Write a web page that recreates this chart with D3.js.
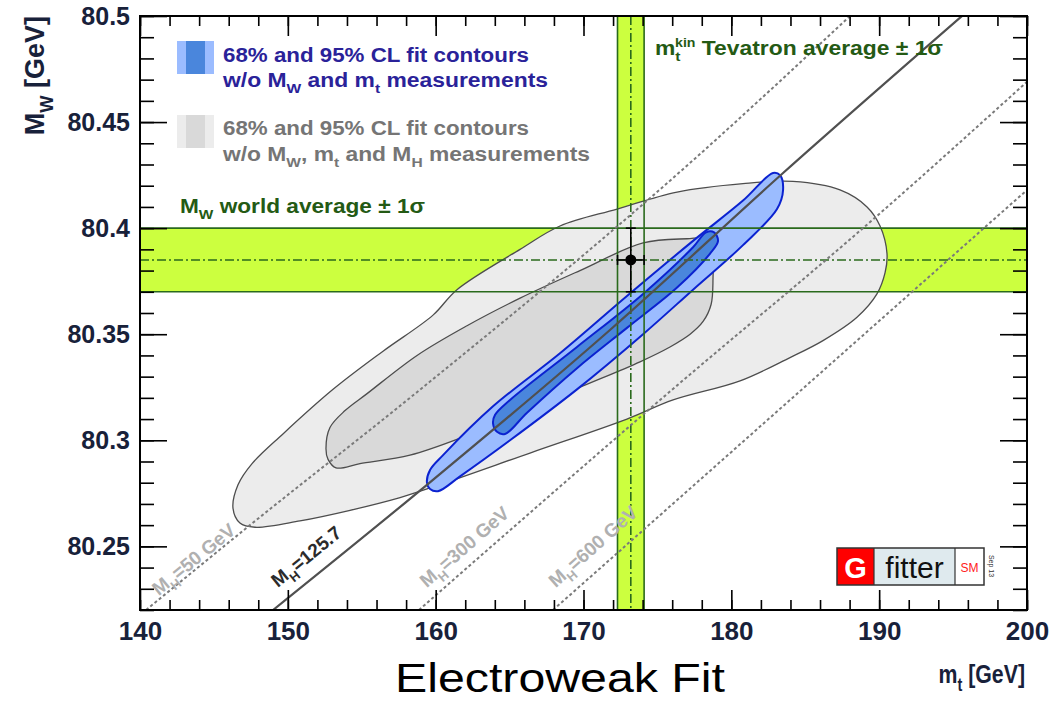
<!DOCTYPE html>
<html>
<head>
<meta charset="utf-8">
<script src="https://cdn.jsdelivr.net/npm/d3@7"></script>
<style>
  html, body { margin: 0; padding: 0; background: #fff; }
  svg { display: block; }
  text { font-family: "Liberation Sans", Arial, Helvetica, sans-serif; }
</style>
</head>
<body>
<svg id="chart" width="1054" height="703"></svg>
<script>
// ---------------- data ----------------
const mtDomain = [140, 200];
const mwDomain = [80.22, 80.5];

const mtTicks = [140, 150, 160, 170, 180, 190, 200];
const mtTickLabels = ["140", "150", "160", "170", "180", "190", "200"];
const mwTicks = [80.25, 80.3, 80.35, 80.4, 80.45, 80.5];
const mwTickLabels = ["80.25", "80.3", "80.35", "80.4", "80.45", "80.5"];

// direct measurements (value, 1 sigma)
const mwWorldAvg = 80.385, mwWorldErr = 0.015;
const mtTevatron = 173.2, mtTevatronErr = 0.9;

// fit contours w/o MW, mt and MH measurements [mt, MW]
const grayOuter95 = [
  [146.29, 80.268], [146.63, 80.279], [147.58, 80.289], [149.67, 80.303], [153.06, 80.324],
  [156.44, 80.342], [159.82, 80.359], [161.44, 80.371], [165.71, 80.390], [168.41, 80.401],
  [172.27, 80.409], [176.33, 80.417], [180.79, 80.421], [184.17, 80.422], [187.35, 80.418],
  [189.18, 80.410], [190.06, 80.401], [190.53, 80.388], [190.40, 80.379], [189.85, 80.369],
  [188.50, 80.358], [186.20, 80.347], [183.97, 80.339], [180.59, 80.328], [176.06, 80.319],
  [172.94, 80.310], [166.38, 80.294], [159.82, 80.278], [157.59, 80.273], [154.21, 80.267],
  [150.82, 80.262], [147.78, 80.259], [146.76, 80.261]
];
const grayInner68 = [
  [152.58, 80.296], [152.85, 80.306], [153.87, 80.314], [155.36, 80.322], [158.74, 80.340],
  [162.12, 80.354], [165.71, 80.367], [169.76, 80.380], [174.03, 80.393], [177.00, 80.395],
  [178.36, 80.395], [178.69, 80.391], [178.76, 80.376], [178.63, 80.364], [178.09, 80.356],
  [177.21, 80.350], [175.85, 80.344], [173.82, 80.337], [169.76, 80.325], [165.71, 80.313],
  [161.65, 80.301], [158.26, 80.293], [154.88, 80.289], [153.26, 80.287], [152.72, 80.291]
];

// fit contours w/o MW and mt measurements [mt, MW]
const blueOuter95 = [
  [159.41, 80.280], [159.62, 80.277], [160.16, 80.276], [161.65, 80.283], [165.03, 80.300],
  [169.56, 80.324], [174.03, 80.350], [177.41, 80.371], [180.79, 80.392], [183.09, 80.409],
  [183.50, 80.418], [183.29, 80.425], [182.82, 80.426], [180.79, 80.413], [177.41, 80.394],
  [172.94, 80.368], [168.41, 80.341], [163.88, 80.316], [160.50, 80.293], [159.62, 80.286]
];
const blueInner68 = [
  [163.88, 80.308], [164.15, 80.304], [164.69, 80.303], [166.18, 80.313], [169.56, 80.334],
  [172.94, 80.353], [176.33, 80.372], [178.56, 80.388], [179.10, 80.394], [178.83, 80.398],
  [178.29, 80.398], [177.41, 80.391], [174.03, 80.369], [169.56, 80.344], [165.03, 80.319],
  [164.02, 80.312]
];

// SM prediction for fixed Higgs mass [mt, MW]
const mh50 = [[140.41, 80.22], [147.44, 80.260], [158.26, 80.320], [177.41, 80.432], [188.03, 80.50]];
const mh125 = [[149.00, 80.22], [159.41, 80.279], [171.79, 80.352], [183.50, 80.426], [195.60, 80.50]];
const mh300 = [[158.87, 80.22], [175.18, 80.319], [190.06, 80.407], [200.0, 80.469]];
const mh600 = [[167.94, 80.22], [183.97, 80.319], [200.0, 80.418]];

const mhLines = [
  { pts: mh50, dashed: true, label: "50 GeV", at: [141.49, 80.2247], color: "#b0b0b0" },
  { pts: mh125, dashed: false, label: "125.7", at: [149.54, 80.2285], color: "#2b2b2b" },
  { pts: mh300, dashed: true, label: "300 GeV", at: [159.62, 80.2285], color: "#b0b0b0" },
  { pts: mh600, dashed: true, label: "600 GeV", at: [168.34, 80.2285], color: "#b0b0b0" }
];

// ---------------- layout ----------------
const svg = d3.select("#chart");
const frame = { left: 140, right: 1027, top: 16, bottom: 610 };

const x = d3.scaleLinear().domain(mtDomain).range([frame.left, frame.right]);
const y = d3.scaleLinear().domain(mwDomain).range([frame.bottom, frame.top]);

const COL = {
  band: "#ccff3f",
  bandLine: "#2a6a1c",
  grayOuter: "#ececec",
  grayInner: "#d9d9d9",
  grayStroke: "#4d4d4d",
  blueOuter: "#9bbcff",
  blueInner: "#4a86dc",
  blueStroke: "#0b22d0",
  text: "#18213a"
};

svg.append("defs").append("clipPath").attr("id", "plotClip")
  .append("rect")
  .attr("x", frame.left).attr("y", frame.top)
  .attr("width", frame.right - frame.left).attr("height", frame.bottom - frame.top);

const plot = svg.append("g").attr("clip-path", "url(#plotClip)");

// ---- measurement bands ----
plot.append("rect")
  .attr("x", frame.left).attr("width", frame.right - frame.left)
  .attr("y", y(mwWorldAvg + mwWorldErr))
  .attr("height", y(mwWorldAvg - mwWorldErr) - y(mwWorldAvg + mwWorldErr))
  .attr("fill", COL.band);
plot.append("rect")
  .attr("y", frame.top).attr("height", frame.bottom - frame.top)
  .attr("x", x(mtTevatron - mtTevatronErr))
  .attr("width", x(mtTevatron + mtTevatronErr) - x(mtTevatron - mtTevatronErr))
  .attr("fill", COL.band);

// ---- contours ----
const contour = d3.line()
  .x(d => x(d[0])).y(d => y(d[1]))
  .curve(d3.curveCatmullRomClosed.alpha(0.5));

plot.append("path").attr("d", contour(grayOuter95))
  .attr("fill", COL.grayOuter).attr("stroke", COL.grayStroke).attr("stroke-width", 1.3);
plot.append("path").attr("d", contour(grayInner68))
  .attr("fill", COL.grayInner).attr("stroke", COL.grayStroke).attr("stroke-width", 1.3);
plot.append("path").attr("d", contour(blueOuter95))
  .attr("fill", COL.blueOuter).attr("stroke", COL.blueStroke).attr("stroke-width", 2);
plot.append("path").attr("d", contour(blueInner68))
  .attr("fill", COL.blueInner).attr("stroke", COL.blueStroke).attr("stroke-width", 2);

// ---- band edges and central values ----
const hLine = (v, dash) => plot.append("line")
  .attr("x1", frame.left).attr("x2", frame.right)
  .attr("y1", y(v)).attr("y2", y(v))
  .attr("stroke", COL.bandLine).attr("stroke-width", 1.6)
  .attr("stroke-dasharray", dash || null);
const vLine = (v, dash) => plot.append("line")
  .attr("y1", frame.top).attr("y2", frame.bottom)
  .attr("x1", x(v)).attr("x2", x(v))
  .attr("stroke", COL.bandLine).attr("stroke-width", 1.6)
  .attr("stroke-dasharray", dash || null);

hLine(mwWorldAvg + mwWorldErr);
hLine(mwWorldAvg - mwWorldErr);
hLine(mwWorldAvg, "9,3,2,3");
vLine(mtTevatron - mtTevatronErr);
vLine(mtTevatron + mtTevatronErr);
vLine(mtTevatron, "9,3,2,3");

// ---- fixed-MH lines ----
const mhPath = d3.line().x(d => x(d[0])).y(d => y(d[1])).curve(d3.curveMonotoneX);
mhLines.forEach(l => {
  plot.append("path").attr("d", mhPath(l.pts))
    .attr("fill", "none")
    .attr("stroke", l.dashed ? "#7a7a7a" : "#505050")
    .attr("stroke-width", l.dashed ? 2 : 2.2)
    .attr("stroke-dasharray", l.dashed ? "3,2.5" : null);
});

// ---- measurement point ----
const pt = plot.append("g").attr("stroke", "#000").attr("stroke-width", 1.6);
pt.append("line")
  .attr("x1", x(mtTevatron)).attr("x2", x(mtTevatron))
  .attr("y1", y(mwWorldAvg + mwWorldErr)).attr("y2", y(mwWorldAvg - mwWorldErr));
pt.append("line")
  .attr("y1", y(mwWorldAvg)).attr("y2", y(mwWorldAvg))
  .attr("x1", x(mtTevatron - mtTevatronErr)).attr("x2", x(mtTevatron + mtTevatronErr));
[mwWorldAvg + mwWorldErr, mwWorldAvg - mwWorldErr].forEach(v =>
  pt.append("line").attr("x1", x(mtTevatron) - 5).attr("x2", x(mtTevatron) + 5)
    .attr("y1", y(v)).attr("y2", y(v)));
[mtTevatron - mtTevatronErr, mtTevatron + mtTevatronErr].forEach(v =>
  pt.append("line").attr("y1", y(mwWorldAvg) - 5).attr("y2", y(mwWorldAvg) + 5)
    .attr("x1", x(v)).attr("x2", x(v)));
pt.append("circle").attr("cx", x(mtTevatron)).attr("cy", y(mwWorldAvg)).attr("r", 5.5)
  .attr("fill", "#000").attr("stroke", "none");

// ---------------- text helper (sub/superscripts) ----------------
// parts: plain strings or [string, "sub" | "sup" | "supOver"]; "supOver" stacks
// the superscript above the preceding subscript.
function richText(parent, px, py, parts, opts) {
  const size = opts.size;
  const t = parent.append("text")
    .attr("x", px).attr("y", py)
    .attr("font-size", size)
    .attr("font-weight", opts.weight || "bold")
    .attr("fill", opts.fill || "#000")
    .attr("text-anchor", opts.anchor || "start");
  if (opts.transform) t.attr("transform", opts.transform);
  if (opts.length) t.attr("textLength", opts.length).attr("lengthAdjust", "spacingAndGlyphs");
  let shift = 0;
  parts.forEach(p => {
    const [str, mode] = Array.isArray(p) ? p : [p, ""];
    let target = 0, fs = size, dx = null;
    if (mode === "sub") { target = 0.32 * size; fs = 0.68 * size; }
    if (mode === "sup" || mode === "supOver") { target = -0.42 * size; fs = 0.62 * size; }
    if (mode === "supOver") dx = -0.24 * size;
    const ts = t.append("tspan").attr("dy", target - shift).attr("font-size", fs).text(str);
    if (dx !== null) ts.attr("dx", dx);
    shift = target;
  });
  return t;
}

// ---- fixed-MH labels along the lines ----
mhLines.forEach(l => {
  const p0 = l.pts[0], p1 = l.pts[1];
  const ang = Math.atan2(y(p1[1]) - y(p0[1]), x(p1[0]) - x(p0[0])) * 180 / Math.PI;
  const ax = x(l.at[0]), ay = y(l.at[1]);
  richText(svg, ax, ay - 5, ["M", ["H", "sub"], "=" + l.label], {
    size: 19, fill: l.color, transform: `rotate(${ang},${ax},${ay})`
  });
});

// ---------------- legend ----------------
const leg = svg.append("g");
leg.append("rect").attr("x", 177).attr("y", 41).attr("width", 37).attr("height", 33).attr("fill", COL.blueOuter);
leg.append("rect").attr("x", 186).attr("y", 41).attr("width", 19).attr("height", 33).attr("fill", COL.blueInner);
leg.append("rect").attr("x", 177).attr("y", 115).attr("width", 37).attr("height", 33).attr("fill", COL.grayOuter);
leg.append("rect").attr("x", 186).attr("y", 115).attr("width", 19).attr("height", 33).attr("fill", COL.grayInner);

const blueTxt = "#2a2299", grayTxt = "#757575", greenTxt = "#245a14";
richText(leg, 223, 62, ["68% and 95% CL fit contours"], { size: 20, fill: blueTxt, length: 306 });
richText(leg, 223, 87, ["w/o M", ["W", "sub"], " and m", ["t", "sub"], " measurements"], { size: 20, fill: blueTxt, length: 325 });
richText(leg, 223, 135, ["68% and 95% CL fit contours"], { size: 20, fill: grayTxt, length: 306 });
richText(leg, 223, 161, ["w/o M", ["W", "sub"], ", m", ["t", "sub"], " and M", ["H", "sub"], " measurements"], { size: 20, fill: grayTxt, length: 367 });
richText(leg, 180, 213, ["M", ["W", "sub"], " world average \u00b1 1\u03c3"], { size: 20, fill: greenTxt, length: 245 });
richText(svg, 655, 55, ["m", ["t", "sub"], ["kin", "supOver"], " Tevatron average \u00b1 1\u03c3"], { size: 20, fill: greenTxt, length: 288 });

// ---------------- Gfitter logo ----------------
const logo = svg.append("g");
logo.append("rect").attr("x", 837).attr("y", 548).attr("width", 37).attr("height", 37).attr("fill", "#ff0000");
logo.append("rect").attr("x", 874).attr("y", 548).attr("width", 81).attr("height", 37).attr("fill", "#dfeaee");
logo.append("rect").attr("x", 955).attr("y", 548).attr("width", 29).attr("height", 37).attr("fill", "#ffffff");
logo.append("rect").attr("x", 837).attr("y", 548).attr("width", 147).attr("height", 37)
  .attr("fill", "none").attr("stroke", "#333").attr("stroke-width", 1.5);
logo.append("line").attr("x1", 874).attr("x2", 874).attr("y1", 548).attr("y2", 585).attr("stroke", "#333").attr("stroke-width", 1.2);
logo.append("line").attr("x1", 955).attr("x2", 955).attr("y1", 548).attr("y2", 585).attr("stroke", "#333").attr("stroke-width", 1.2);
logo.append("text").attr("x", 855.5).attr("y", 578).attr("text-anchor", "middle")
  .attr("font-size", 29).attr("font-weight", "bold").attr("fill", "#fff").text("G");
logo.append("text").attr("x", 914.5).attr("y", 578).attr("text-anchor", "middle")
  .attr("font-size", 30).attr("fill", "#111").text("fitter");
logo.append("text").attr("x", 969.5).attr("y", 572).attr("text-anchor", "middle")
  .attr("font-size", 12).attr("fill", "#ff2020").text("SM");
logo.append("text").attr("transform", "translate(989,566) rotate(90)").attr("text-anchor", "middle")
  .attr("font-size", 7).attr("fill", "#333").text("Sep 13");

// ---------------- axes (ticks inside the frame) ----------------
const mtMinor = d3.range(140, 200.001, 2);
const mwMinor = d3.range(0, 29).map(i => 80.22 + i * 0.01);

function styleAxis(g) {
  g.select(".domain").remove();
  g.selectAll("line").attr("stroke", "#000").attr("stroke-width", 1.6);
}

// bottom
svg.append("g").attr("transform", `translate(0,${frame.bottom})`)
  .call(d3.axisBottom(x).tickValues(mtMinor).tickSize(-10).tickFormat(""))
  .call(styleAxis);
svg.append("g").attr("transform", `translate(0,${frame.bottom})`)
  .call(d3.axisBottom(x).tickValues(mtTicks).tickSize(-20).tickPadding(12)
    .tickFormat((d, i) => mtTickLabels[i]))
  .call(styleAxis)
  .call(g => g.selectAll("text").attr("font-size", 26).attr("font-weight", "bold")
    .attr("fill", COL.text).attr("font-family", "Liberation Sans, Arial, sans-serif"));
// top
svg.append("g").attr("transform", `translate(0,${frame.top})`)
  .call(d3.axisTop(x).tickValues(mtMinor).tickSize(-10).tickFormat(""))
  .call(styleAxis);
svg.append("g").attr("transform", `translate(0,${frame.top})`)
  .call(d3.axisTop(x).tickValues(mtTicks).tickSize(-20).tickFormat(""))
  .call(styleAxis);
// left
svg.append("g").attr("transform", `translate(${frame.left},0)`)
  .call(d3.axisLeft(y).tickValues(mwMinor).tickSize(-14).tickFormat(""))
  .call(styleAxis);
svg.append("g").attr("transform", `translate(${frame.left},0)`)
  .call(d3.axisLeft(y).tickValues(mwTicks).tickSize(-27).tickPadding(10)
    .tickFormat((d, i) => mwTickLabels[i]))
  .call(styleAxis)
  .call(g => g.selectAll("text").attr("font-size", 25).attr("font-weight", "bold")
    .attr("fill", COL.text).attr("font-family", "Liberation Sans, Arial, sans-serif"));
// right
svg.append("g").attr("transform", `translate(${frame.right},0)`)
  .call(d3.axisRight(y).tickValues(mwMinor).tickSize(-14).tickFormat(""))
  .call(styleAxis);
svg.append("g").attr("transform", `translate(${frame.right},0)`)
  .call(d3.axisRight(y).tickValues(mwTicks).tickSize(-27).tickFormat(""))
  .call(styleAxis);

// frame
svg.append("rect")
  .attr("x", frame.left).attr("y", frame.top)
  .attr("width", frame.right - frame.left).attr("height", frame.bottom - frame.top)
  .attr("fill", "none").attr("stroke", "#000").attr("stroke-width", 2);

// axis titles
richText(svg, 44, 16, ["M", ["W", "sub"], " [GeV]"], {
  size: 27, fill: COL.text, anchor: "end", transform: "rotate(-90,44,16)"
});
richText(svg, 0, 0, ["m", ["t", "sub"], " [GeV]"], {
  size: 26, fill: COL.text, anchor: "end", transform: "translate(1025,683) scale(0.82,1)"
});

// caption
svg.append("text")
  .attr("x", 560).attr("y", 692).attr("text-anchor", "middle")
  .attr("font-family", "Lato, 'Open Sans', sans-serif")
  .attr("font-size", 41).attr("fill", "#000")
  .attr("textLength", 330).attr("lengthAdjust", "spacingAndGlyphs")
  .text("Electroweak Fit");
</script>
</body>
</html>
